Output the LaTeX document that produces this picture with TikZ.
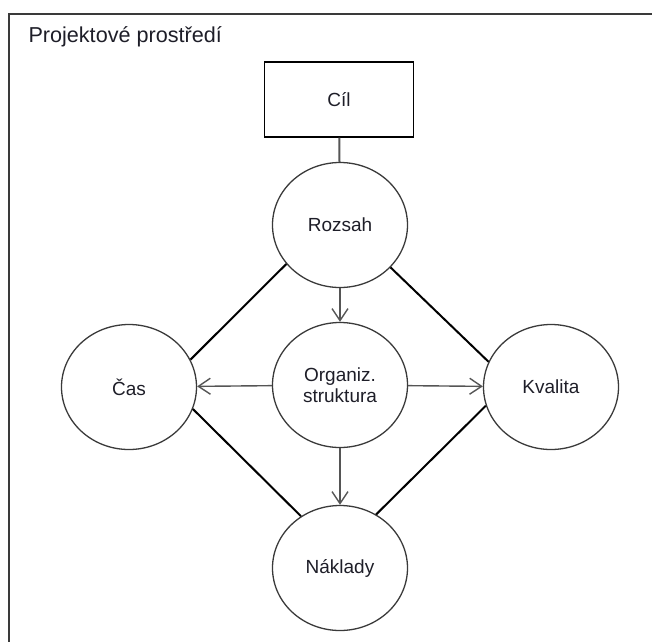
\documentclass[tikz,border=0pt]{standalone}
\usepackage{fontspec}
\setmainfont{Liberation Sans}
\usetikzlibrary{shapes.geometric,arrows.meta}
\definecolor{txt}{HTML}{1E1E28}
\definecolor{circ}{HTML}{3A3A3A}
\definecolor{arr}{HTML}{555555}
\begin{document}
\begin{tikzpicture}[x=1pt,y=-1pt,
  bubble/.style={ellipse,draw=circ,line width=1.3pt,minimum width=135pt,minimum height=125pt,inner sep=0pt,
    text=txt,font=\fontsize{19}{21}\selectfont,align=center},
  goalbox/.style={rectangle,draw=black,line width=1.4pt,minimum width=149pt,minimum height=75pt,inner sep=0pt,
    text=txt,font=\fontsize{19}{21}\selectfont},
  flow/.style={draw=arr,line width=1.4pt,-{Straight Barb[length=12pt,width=16pt,line width=1.4pt]}},
  link/.style={draw=black,line width=2pt},
  stem/.style={draw=arr,line width=2pt}]
\useasboundingbox (0,0) rectangle (652,641);
\draw[draw=circ,line width=1.6pt] (9,660) -- (9,14) -- (670,14);
\node[anchor=base west,text=txt,font=\fontsize{21.6}{24}\selectfont] (title) at (25,42) {Projektové prostředí};
\node[goalbox] (cil) at (339,99.5) {Cíl};
\node[bubble] (rozsah) at (340,225) {Rozsah};
\node[bubble] (cas) at (129,387) {Čas};
\node[bubble] (org) at (340,385) {Organiz.\\struktura};
\node[bubble] (kval) at (551,387) {Kvalita};
\node[bubble] (nakl) at (340,568) {Náklady};
\draw[stem] (cil) -- (rozsah);
\draw[link] (rozsah.216) -- (cas.24);
\draw[link] (rozsah.320) -- (kval.158);
\draw[link] (cas.-19) -- (nakl.127);
\draw[link] (kval.196) -- (nakl.56);
\draw[flow] (rozsah) -- (org);
\draw[flow] (org) -- (cas);
\draw[flow] (org) -- (kval);
\draw[flow] (org) -- (nakl);
\end{tikzpicture}
\end{document}
